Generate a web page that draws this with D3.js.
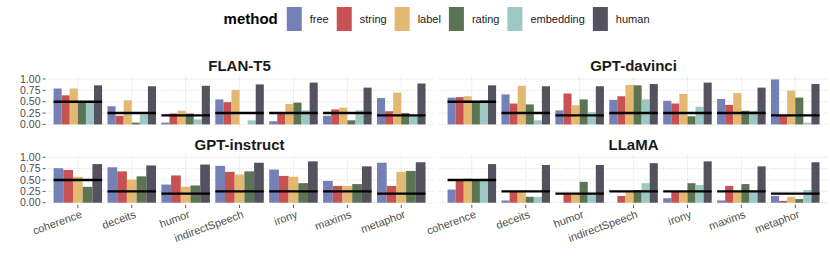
<!DOCTYPE html>
<html>
<head>
<meta charset="utf-8">
<script src="https://cdn.jsdelivr.net/npm/d3@7"></script>
<style>
  body { margin: 0; background: #fff; }
  svg { font-family: "Liberation Sans", Arial, Helvetica, sans-serif; }
  .grid line { stroke: #c9c9c9; stroke-width: 0.7; stroke-dasharray: 1,1.6; }
  .ytick text, .xtick text { fill: #4d4d4d; }
  .ytick line, .xtick line { stroke: #333; stroke-width: 0.8; }
</style>
</head>
<body>
<div id="chart"></div>
<script>
// categories and methods
const categories = ['coherence', 'deceits', 'humor', 'indirectSpeech', 'irony', 'maxims', 'metaphor'];
const methods = ['free', 'string', 'label', 'rating', 'embedding', 'human'];
const methodColors = ['#7581b6', '#c85251', '#e3b971', '#5a7454', '#9cc7c4', '#55525f'];
const models = ['FLAN-T5', 'GPT-davinci', 'GPT-instruct', 'LLaMA'];
// chance level per category (black lines)
const chance = [0.5, 0.25, 0.2, 0.25, 0.25, 0.25, 0.2];
const yTicks = [0, 0.25, 0.5, 0.75, 1];

// one row per method (order as in methods), values per category; null = method not run
const flanT5 = [
  [0.79, 0.40, 0.04, 0.55, 0.07, 0.19, 0.58],
  [0.64, 0.19, 0.24, 0.49, 0.25, 0.33, 0.29],
  [0.79, 0.53, 0.30, 0.76, 0.45, 0.37, 0.70],
  [0.50, 0.04, 0.24, 0.00, 0.48, 0.09, 0.25],
  [0.48, 0.22, 0.11, 0.09, 0.31, 0.31, 0.19],
  [0.86, 0.84, 0.85, 0.88, 0.92, 0.81, 0.90]
];
const gptDavinci = [
  [0.59, 0.66, 0.31, 0.54, 0.52, 0.56, 0.99],
  [0.60, 0.46, 0.68, 0.62, 0.46, 0.43, 0.21],
  [0.62, 0.85, 0.42, 0.87, 0.67, 0.69, 0.74],
  [0.49, 0.44, 0.55, 0.86, 0.18, 0.30, 0.59],
  [0.54, 0.09, 0.27, 0.55, 0.39, 0.30, 0.04],
  [0.86, 0.84, 0.84, 0.89, 0.92, 0.81, 0.89]
];
const gptInstruct = [
  [0.76, 0.78, 0.40, 0.81, 0.73, 0.48, 0.88],
  [0.72, 0.69, 0.60, 0.68, 0.59, 0.37, 0.37],
  [0.57, 0.51, 0.35, 0.62, 0.57, 0.37, 0.68],
  [0.35, 0.58, 0.38, 0.69, 0.43, 0.41, 0.70],
  null,
  [0.85, 0.82, 0.84, 0.88, 0.91, 0.80, 0.89]
];
const llama = [
  [0.29, 0.05, 0.00, 0.00, 0.10, 0.05, 0.15],
  [0.49, 0.24, 0.19, 0.15, 0.24, 0.37, 0.04],
  [0.53, 0.24, 0.19, 0.24, 0.24, 0.24, 0.13],
  [0.49, 0.13, 0.46, 0.28, 0.43, 0.41, 0.08],
  [0.49, 0.13, 0.19, 0.43, 0.39, 0.24, 0.28],
  [0.85, 0.83, 0.83, 0.87, 0.91, 0.80, 0.89]
];
const modelData = [flanT5, gptDavinci, gptInstruct, llama];

const width = 830, height = 277;
const colX = [[45.5, 433.6], [439.5, 827.6]];
const rowY = [[76.7, 126.7], [155, 205]]; // [top, bottom]

const svg = d3.select('#chart').append('svg')
    .attr('width', width)
    .attr('height', height);

const color = d3.scaleOrdinal().domain(methods).range(methodColors);

models.forEach((model, i) => {
  const col = i % 2, row = Math.floor(i / 2);
  const [x0, x1] = colX[col];
  const [yt, yb] = rowY[row];

  const x = d3.scalePoint().domain(categories).range([x0, x1]).padding(0.6);
  const step = x.step();
  const y = d3.scaleLinear().domain([-0.05, 1.05]).range([yb, yt]);

  const present = methods.filter((m, j) => modelData[i][j] !== null);
  const xm = d3.scaleBand().domain(present).range([-0.45 * step, 0.45 * step]);

  const g = svg.append('g').attr('class', 'panel');

  // grid
  const grid = g.append('g').attr('class', 'grid');
  grid.selectAll('.gh').data(yTicks).join('line')
      .attr('x1', x0).attr('x2', x1)
      .attr('y1', d => y(d)).attr('y2', d => y(d));
  grid.selectAll('.gv').data(categories).join('line')
      .attr('x1', d => x(d)).attr('x2', d => x(d))
      .attr('y1', yb).attr('y2', yt);

  // bars
  const rows = [];
  methods.forEach((m, j) => {
    const vals = modelData[i][j];
    if (vals === null) return;
    vals.forEach((v, k) => rows.push({method: m, cat: categories[k], value: v}));
  });
  g.append('g').selectAll('rect').data(rows).join('rect')
      .attr('x', d => x(d.cat) + xm(d.method))
      .attr('width', xm.bandwidth())
      .attr('y', d => y(d.value))
      .attr('height', d => y(0) - y(d.value))
      .attr('fill', d => color(d.method));

  // chance lines
  g.append('g').selectAll('line').data(categories).join('line')
      .attr('x1', d => x(d) - 0.45 * step)
      .attr('x2', d => x(d) + 0.45 * step)
      .attr('y1', (d, k) => y(chance[k]))
      .attr('y2', (d, k) => y(chance[k]))
      .attr('stroke', '#000')
      .attr('stroke-width', 2.4);

  // strip title
  g.append('text')
      .attr('x', (x0 + x1) / 2)
      .attr('y', yt - 5.5)
      .attr('text-anchor', 'middle')
      .attr('font-size', 15)
      .attr('font-weight', 'bold')
      .attr('fill', '#1a1a1a')
      .text(model);

  // y axis on left column
  if (col === 0) {
    const ytk = g.append('g').attr('class', 'ytick').selectAll('g').data(yTicks).join('g')
        .attr('transform', d => `translate(0,${y(d)})`);
    ytk.append('line').attr('x1', x0 - 3).attr('x2', x0);
    ytk.append('text')
        .attr('x', x0 - 5)
        .attr('dy', '0.35em')
        .attr('text-anchor', 'end')
        .attr('font-size', 10.5)
        .text(d => d.toFixed(2));
  }

  // x axis on bottom row
  if (row === 1) {
    const xt = g.append('g').attr('class', 'xtick').selectAll('g').data(categories).join('g')
        .attr('transform', d => `translate(${x(d)},${yb})`);
    xt.append('line').attr('y1', 0).attr('y2', 3);
    xt.append('text')
        .attr('transform', 'translate(2,4.5) rotate(-20)')
        .attr('text-anchor', 'end')
        .attr('dy', '0.75em')
        .attr('font-size', 11)
        .text(d => d);
  }
});

// legend, centred over the panel area
const legend = svg.append('g').attr('class', 'legend');
const keyW = 15, keyH = 24, keyTop = 7;
const title = legend.append('text')
    .attr('y', keyTop + keyH / 2)
    .attr('dy', '0.35em')
    .attr('font-size', 15)
    .attr('font-weight', 'bold')
    .attr('fill', '#000')
    .text('method');
let cx = title.node().getComputedTextLength() + 9;
methods.forEach(m => {
  legend.append('rect')
      .attr('x', cx).attr('y', keyTop)
      .attr('width', keyW).attr('height', keyH)
      .attr('fill', color(m));
  const t = legend.append('text')
      .attr('x', cx + keyW + 8)
      .attr('y', keyTop + keyH / 2)
      .attr('dy', '0.35em')
      .attr('font-size', 11)
      .attr('fill', '#1a1a1a')
      .text(m);
  cx += keyW + 8 + t.node().getComputedTextLength() + 8;
});
const legW = cx - 8;
const centre = (colX[0][0] + colX[1][1]) / 2;
legend.attr('transform', `translate(${centre - legW / 2},0)`);
</script>
</body>
</html>
